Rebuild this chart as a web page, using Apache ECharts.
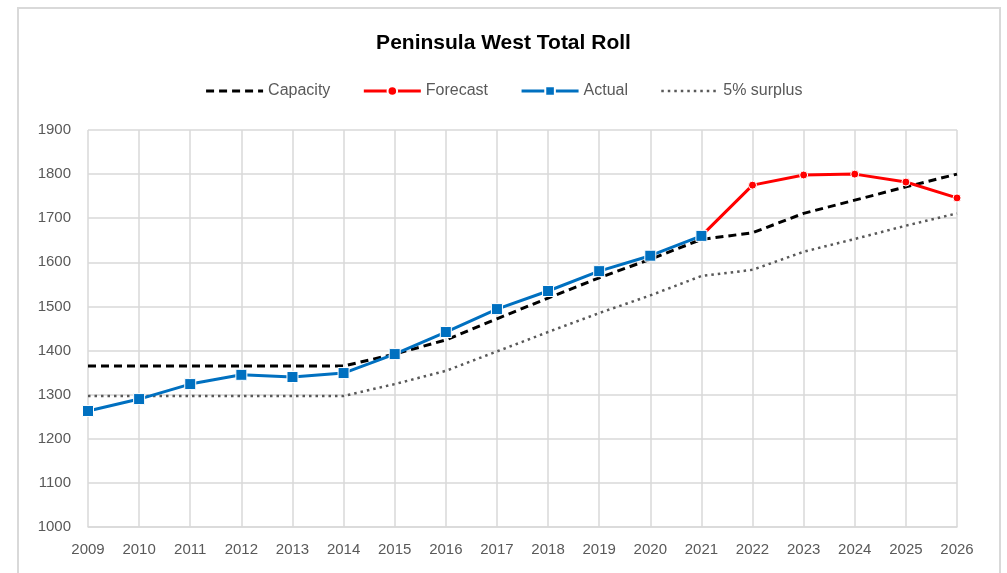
<!DOCTYPE html>
<html>
<head>
<meta charset="utf-8">
<title>Peninsula West Total Roll</title>
<script src="https://cdn.jsdelivr.net/npm/echarts@6/dist/echarts.min.js"></script>
<style>
  html, body { margin: 0; padding: 0; background: #fff; }
  #chart { width: 1007px; height: 573px; }
  .frame {
    position: absolute; left: 17px; top: 7px; width: 984px; height: 600px;
    border: 2px solid #d9d9d9; pointer-events: none; box-sizing: border-box;
  }
</style>
</head>
<body>
<div id="chart"></div>
<div class="frame"></div>
<script>
// data
const years = ['2009', '2010', '2011', '2012', '2013', '2014', '2015', '2016', '2017',
  '2018', '2019', '2020', '2021', '2022', '2023', '2024', '2025', '2026']
const capacity = [1365, 1365, 1365, 1365, 1365, 1365, 1392, 1424, 1472, 1519, 1565,
  1607, 1652, 1667, 1711, 1741, 1771, 1800]
const forecast = [null, null, null, null, null, null, null, null, null, null, null,
  null, 1660, 1775, 1798, 1800, 1782, 1746]
const actual = [1263, 1290, 1324, 1345, 1340, 1349, 1392, 1442, 1494, 1535, 1580,
  1615, 1660]
const surplus = [1297, 1297, 1297, 1297, 1297, 1297, 1324, 1354, 1398, 1442, 1485,
  1525, 1569, 1583, 1624, 1653, 1683, 1711]

const textColor = '#595959'
const gridColor = '#d9d9d9'
const font = 'Liberation Sans'

const chart = echarts.init(document.getElementById('chart'))
chart.setOption({
  animation: false,
  title: {
    text: 'Peninsula West Total Roll',
    left: 'center',
    top: 28,
    textStyle: { fontFamily: font, fontSize: 21, fontWeight: 'bold', color: '#000' }
  },
  legend: {
    top: 78,
    left: 'center',
    itemWidth: 57,
    itemHeight: 12,
    itemGap: 32,
    lineStyle: { width: 3 },
    textStyle: { fontFamily: font, fontSize: 16, color: textColor },
    data: [
      { name: 'Capacity', itemStyle: { opacity: 0 } },
      'Forecast',
      'Actual',
      { name: '5% surplus', itemStyle: { opacity: 0 }, lineStyle: { width: 2.5 } }
    ]
  },
  grid: {
    left: 88,
    right: 50,
    top: 130,
    bottom: 46
  },
  xAxis: {
    type: 'category',
    data: years,
    boundaryGap: false,
    axisLine: { lineStyle: { color: gridColor, width: 1.5 } },
    axisTick: { show: false },
    axisLabel: { fontFamily: font, fontSize: 15, color: textColor, margin: 15 },
    splitLine: { show: true, lineStyle: { color: gridColor, width: 1.5 } }
  },
  yAxis: {
    type: 'value',
    min: 1000,
    max: 1900,
    interval: 100,
    axisLine: { show: false },
    axisTick: { show: false },
    axisLabel: {
      fontFamily: font, fontSize: 15, color: textColor, margin: 17,
      formatter: (v) => String(v)
    },
    splitLine: { lineStyle: { color: gridColor, width: 1.5 } }
  },
  series: [
    {
      name: 'Capacity',
      type: 'line',
      data: capacity,
      symbol: 'none',
      z: 2,
      itemStyle: { color: '#000' },
      lineStyle: { color: '#000', width: 3, type: [8, 5] }
    },
    {
      name: '5% surplus',
      type: 'line',
      data: surplus,
      symbol: 'none',
      z: 1,
      itemStyle: { color: textColor },
      lineStyle: { color: textColor, width: 2.5, type: [2.5, 4] }
    },
    {
      name: 'Forecast',
      type: 'line',
      data: forecast,
      symbol: 'circle',
      symbolSize: 8,
      z: 3,
      itemStyle: { color: '#ff0000', borderColor: '#fff', borderWidth: 1 },
      lineStyle: { color: '#ff0000', width: 3 }
    },
    {
      name: 'Actual',
      type: 'line',
      data: actual,
      symbol: 'rect',
      symbolSize: 11,
      z: 4,
      itemStyle: { color: '#0070c0', borderColor: '#fff', borderWidth: 1 },
      lineStyle: { color: '#0070c0', width: 3 }
    }
  ]
})
</script>
</body>
</html>
